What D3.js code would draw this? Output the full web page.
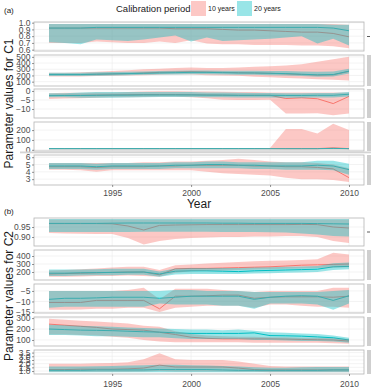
<!DOCTYPE html>
<html>
<head>
<meta charset="utf-8">
<script src="https://cdn.jsdelivr.net/npm/d3@7"></script>
<style>
  body { margin: 0; background: #fff; }
  svg { display: block; font-family: "Liberation Sans", Arial, sans-serif; }
</style>
</head>
<body>
<div id="chart"></div>
<script>
const width = 371;
const height = 387;

const years = d3.range(1991, 2011);
const xTicks = [1995, 2000, 2005, 2010];
const seriesNames = ['10 years', '20 years'];

// ---- C1 ----
const c1p1Mid10 = [0.92,0.92,0.92,0.92,0.92,0.92,0.92,0.92,0.91,0.91,0.91,0.90,0.89,0.89,0.88,0.87,0.86,0.86,0.84,0.79];
const c1p1Lo10  = [0.70,0.70,0.70,0.72,0.71,0.70,0.70,0.72,0.70,0.74,0.69,0.68,0.68,0.67,0.67,0.67,0.66,0.66,0.65,0.62];
const c1p1Hi10  = [0.98,0.98,0.98,0.98,0.98,0.98,0.98,0.98,0.98,0.98,0.98,0.98,0.98,0.98,0.98,0.98,0.98,0.98,0.98,0.97];
const c1p1Mid20 = [0.92,0.92,0.92,0.93,0.93,0.93,0.93,0.93,0.93,0.93,0.93,0.93,0.93,0.93,0.93,0.93,0.93,0.93,0.92,0.88];
const c1p1Lo20  = [0.71,0.70,0.68,0.75,0.74,0.73,0.75,0.78,0.81,0.72,0.78,0.73,0.74,0.75,0.76,0.78,0.80,0.69,0.76,0.66];
const c1p1Hi20  = [0.98,0.98,0.98,0.98,0.98,0.98,0.98,0.98,0.98,0.98,0.98,0.98,0.98,0.98,0.98,0.98,0.98,0.98,0.97,0.97];

const c1p2Mid10 = [215,215,215,220,225,230,240,250,255,260,255,250,245,240,235,225,215,205,210,265];
const c1p2Lo10  = [185,185,185,190,195,200,205,210,215,215,205,200,195,180,170,160,150,140,130,120];
const c1p2Hi10  = [245,245,250,260,270,285,300,310,320,330,320,320,330,340,350,360,380,420,460,500];
const c1p2Mid20 = [215,215,215,220,225,230,235,240,245,250,250,245,240,240,235,230,220,210,215,270];
const c1p2Lo20  = [190,190,190,195,200,205,210,215,215,220,220,215,210,210,205,200,190,180,185,230];
const c1p2Hi20  = [245,245,245,250,255,260,265,270,275,280,280,275,275,275,270,270,265,260,265,310];

const c1p3Mid10 = [-2.5,-2.4,-2.4,-2.3,-2.2,-2.1,-2.0,-2.0,-2.0,-2.1,-2.2,-2.3,-2.4,-2.4,-2.4,-4.2,-3.8,-4.3,-7.0,-3.0];
const c1p3Lo10  = [-4.5,-4.2,-4.0,-3.8,-3.5,-3.5,-3.3,-3.2,-3.2,-3.5,-4.0,-4.8,-5.0,-5.0,-4.8,-12.5,-12.5,-12.3,-13.5,-12.5];
const c1p3Hi10  = [-1.2,-1.0,-1.0,-0.8,-0.8,-0.5,-0.3,-0.2,-0.2,-0.3,-0.3,-0.4,-0.5,-0.6,-0.8,-0.8,-0.8,-0.8,-0.9,-0.8];
const c1p3Mid20 = [-2.6,-2.5,-2.5,-2.4,-2.3,-2.3,-2.2,-2.2,-2.2,-2.2,-2.3,-2.3,-2.4,-2.4,-2.4,-2.5,-2.5,-2.4,-2.4,-1.8];
const c1p3Lo20  = [-3.5,-3.5,-3.8,-3.8,-3.7,-3.6,-3.5,-3.4,-3.4,-3.4,-3.5,-3.5,-3.6,-3.6,-3.6,-3.7,-3.7,-3.6,-3.6,-3.0];
const c1p3Hi20  = [-1.3,-1.2,-0.8,-0.6,-0.6,-0.6,-0.5,-0.5,-0.5,-0.6,-0.8,-0.9,-1.0,-1.1,-1.1,-1.2,-1.2,-1.1,-1.1,-0.5];

const c1p4Mid10 = [12,12,12,12,12,12,12,12,12,12,12,12,12,12,12,12,12,12,20,12];
const c1p4Lo10  = [6,6,6,6,6,6,6,6,6,6,6,6,6,6,6,4,4,4,4,4];
const c1p4Hi10  = [17,17,17,17,17,17,17,17,17,17,17,17,17,17,18,210,210,165,265,200];
const c1p4Mid20 = [12,12,12,12,12,12,12,12,12,12,12,12,12,12,12,12,12,12,14,12];
const c1p4Lo20  = [7,7,7,7,7,7,7,7,7,7,7,7,7,7,7,7,7,7,7,7];
const c1p4Hi20  = [17,17,17,17,17,17,17,17,17,17,17,17,17,17,17,17,17,17,20,17];

const c1p5Mid10 = [4.7,4.7,4.7,4.6,4.7,4.7,4.7,4.8,4.8,4.9,4.9,4.9,4.9,4.8,4.8,4.7,4.7,4.6,4.4,3.2];
const c1p5Lo10  = [4.3,4.3,4.2,4.0,4.2,4.2,4.2,4.2,4.2,4.2,4.0,3.8,3.7,3.6,3.5,3.2,3.0,3.0,2.9,2.6];
const c1p5Hi10  = [5.2,5.2,5.2,5.2,5.2,5.2,5.3,5.3,5.4,5.4,5.5,5.6,5.8,5.6,5.4,5.3,5.3,5.2,5.0,4.5];
const c1p5Mid20 = [4.8,4.8,4.8,4.7,4.8,4.8,4.8,4.8,4.9,4.9,5.0,5.0,4.9,4.9,4.8,4.8,4.8,4.9,4.8,4.3];
const c1p5Lo20  = [4.4,4.4,4.4,4.3,4.4,4.4,4.4,4.4,4.5,4.5,4.5,4.5,4.5,4.4,4.4,4.3,4.3,4.3,4.2,3.6];
const c1p5Hi20  = [5.2,5.2,5.2,5.1,5.2,5.2,5.2,5.2,5.3,5.3,5.4,5.4,5.3,5.3,5.3,5.3,5.3,5.5,5.5,5.1];

// ---- C2 ----
const c2p1Mid10 = [0.967,0.967,0.967,0.967,0.966,0.955,0.935,0.958,0.960,0.961,0.962,0.962,0.962,0.962,0.962,0.962,0.963,0.962,0.950,0.945];
const c2p1Lo10  = [0.920,0.918,0.916,0.915,0.915,0.895,0.862,0.880,0.890,0.895,0.898,0.900,0.900,0.902,0.903,0.905,0.905,0.900,0.880,0.870];
const c2p1Hi10  = [0.988,0.988,0.988,0.988,0.988,0.988,0.988,0.988,0.988,0.988,0.988,0.988,0.988,0.988,0.988,0.988,0.988,0.988,0.988,0.988];
const c2p1Mid20 = [0.968,0.968,0.968,0.968,0.969,0.970,0.970,0.970,0.970,0.970,0.970,0.969,0.969,0.968,0.968,0.968,0.968,0.967,0.966,0.965];
const c2p1Lo20  = [0.925,0.925,0.925,0.925,0.925,0.925,0.926,0.926,0.926,0.926,0.926,0.925,0.925,0.925,0.924,0.922,0.918,0.912,0.905,0.903];
const c2p1Hi20  = [0.990,0.990,0.990,0.990,0.990,0.990,0.990,0.990,0.990,0.990,0.990,0.990,0.990,0.990,0.990,0.990,0.990,0.990,0.990,0.990];

const c2p2Mid10 = [175,180,185,190,195,200,200,165,240,245,245,250,255,260,265,275,285,290,295,300];
const c2p2Lo10  = [140,140,145,150,150,155,150,140,190,210,215,220,225,230,235,240,245,250,255,260];
const c2p2Hi10  = [220,225,235,245,255,265,265,225,285,295,305,315,325,335,340,345,350,360,440,420];
const c2p2Mid20 = [185,185,190,192,195,198,200,175,210,215,215,210,205,215,220,225,230,235,265,270];
const c2p2Lo20  = [150,150,155,160,160,165,165,140,170,175,175,175,175,180,185,190,195,200,225,235];
const c2p2Hi20  = [230,230,232,235,240,240,240,205,245,250,250,250,250,255,260,265,270,275,310,320];

const c2p3Mid10 = [-10.5,-10.5,-10.5,-9.5,-9.5,-9.5,-9.5,-13.5,-7.5,-7.5,-7.3,-7.0,-7.0,-8.5,-8.0,-7.8,-7.8,-7.8,-8.0,-7.5];
const c2p3Lo10  = [-14.0,-14.0,-13.8,-13.5,-13.5,-13.0,-13.0,-15.0,-13.0,-12.5,-12.0,-12.0,-12.0,-13.0,-11.5,-11.5,-12.0,-12.5,-12.5,-13.0];
const c2p3Hi10  = [-5.0,-5.0,-5.0,-5.0,-5.0,-4.5,-3.5,-9.0,-4.0,-4.0,-4.0,-4.5,-5.0,-5.5,-5.0,-5.0,-5.0,-5.0,-3.5,-3.5];
const c2p3Mid20 = [-9.0,-8.5,-8.5,-8.3,-8.0,-8.0,-8.0,-8.5,-8.0,-7.5,-7.5,-7.5,-7.5,-9.0,-8.0,-7.5,-7.3,-7.5,-9.5,-7.3];
const c2p3Lo20  = [-13.0,-12.5,-12.5,-12.5,-12.5,-12.5,-12.5,-11.0,-11.5,-11.5,-11.5,-12.0,-12.0,-13.5,-11.0,-11.0,-11.0,-11.5,-14.0,-11.0];
const c2p3Hi20  = [-5.0,-5.0,-5.0,-5.0,-5.0,-5.0,-5.0,-5.0,-4.5,-4.5,-5.0,-5.0,-5.0,-5.5,-5.5,-5.5,-5.5,-5.5,-5.0,-4.5];

const c2p4Mid10 = [245,235,225,215,200,195,190,170,150,125,115,110,110,110,110,108,105,102,100,90];
const c2p4Lo10  = [150,150,145,140,130,120,100,85,80,80,80,80,80,75,75,75,75,75,70,65];
const c2p4Hi10  = [295,285,275,268,260,250,230,220,180,155,140,135,130,130,125,125,120,120,115,110];
const c2p4Mid20 = [200,195,190,188,185,180,175,172,165,160,160,160,160,165,140,138,135,128,120,100];
const c2p4Lo20  = [145,145,140,135,135,130,125,125,115,110,110,110,110,100,100,95,90,90,85,75];
const c2p4Hi20  = [240,235,230,225,220,215,210,205,200,195,195,190,195,185,170,165,160,155,140,120];

const c2p5Mid10 = [1.20,1.20,1.25,1.25,1.25,1.30,1.40,1.80,1.55,1.55,1.55,1.55,1.40,1.20,1.15,1.15,1.15,1.15,1.15,1.15];
const c2p5Lo10  = [0.90,0.90,0.90,0.90,0.90,0.90,0.95,1.00,0.95,0.95,0.95,0.95,0.90,0.90,0.85,0.85,0.85,0.85,0.85,0.85];
const c2p5Hi10  = [2.00,2.00,2.00,2.05,2.10,2.20,2.60,3.40,2.60,2.50,2.50,2.50,2.30,2.00,1.70,1.60,1.60,1.60,1.60,1.60];
const c2p5Mid20 = [1.10,1.10,1.10,1.15,1.15,1.15,1.15,1.20,1.20,1.20,1.20,1.15,1.10,1.10,1.10,1.10,1.10,1.10,1.15,1.15];
const c2p5Lo20  = [0.85,0.85,0.85,0.85,0.85,0.85,0.85,0.85,0.85,0.85,0.85,0.85,0.85,0.85,0.85,0.85,0.85,0.85,0.85,0.85];
const c2p5Hi20  = [1.60,1.60,1.60,1.65,1.70,1.75,1.80,1.85,1.85,1.80,1.75,1.70,1.60,1.50,1.45,1.45,1.50,1.55,1.55,1.55];

// y tick labels per panel
const c1Ticks = [[0.6,0.7,0.8,0.9,1.0],[100,200,300,400,500],[-10,-5,0],[0,100,200],[3,4,5,6]];
const c2Ticks = [[0.90,0.95],[200,300,400],[-15,-10,-5],[100,200,300],[1.0,1.5,2.0,2.5,3.0,3.5]];

const colors = { '10 years': '#F8766D', '20 years': '#00BFC4' };

function series(mid10, lo10, hi10, mid20, lo20, hi20) {
  return [
    { name: '10 years', rows: years.map((y, i) => ({ year: y, mid: mid10[i], lo: lo10[i], hi: hi10[i] })) },
    { name: '20 years', rows: years.map((y, i) => ({ year: y, mid: mid20[i], lo: lo20[i], hi: hi20[i] })) },
  ];
}

const groups = [
  {
    label: '(a)', labelY: 13, title: 'Parameter values for C1', xLabelY: 196, showYear: true,
    panels: [
      { top: 22, bottom: 51, domain: [0.58, 1.01], ticks: c1Ticks[0], fmt: '.1f', data: series(c1p1Mid10, c1p1Lo10, c1p1Hi10, c1p1Mid20, c1p1Lo20, c1p1Hi20) },
      { top: 55, bottom: 86, domain: [30, 530], ticks: c1Ticks[1], fmt: 'd', data: series(c1p2Mid10, c1p2Lo10, c1p2Hi10, c1p2Mid20, c1p2Lo20, c1p2Hi20) },
      { top: 89, bottom: 118, domain: [-15, 1.1], ticks: c1Ticks[2], fmt: 'd', data: series(c1p3Mid10, c1p3Lo10, c1p3Hi10, c1p3Mid20, c1p3Lo20, c1p3Hi20) },
      { top: 122, bottom: 151, domain: [-12, 282], ticks: c1Ticks[3], fmt: 'd', data: series(c1p4Mid10, c1p4Lo10, c1p4Hi10, c1p4Mid20, c1p4Lo20, c1p4Hi20) },
      { top: 155, bottom: 185, domain: [2.2, 6.3], ticks: c1Ticks[4], fmt: 'd', data: series(c1p5Mid10, c1p5Lo10, c1p5Hi10, c1p5Mid20, c1p5Lo20, c1p5Hi20) },
    ],
  },
  {
    label: '(b)', labelY: 214, title: 'Parameter values for C2', xLabelY: 387, showYear: false,
    panels: [
      { top: 218, bottom: 246, domain: [0.855, 0.995], ticks: c2Ticks[0], fmt: '.2f', data: series(c2p1Mid10, c2p1Lo10, c2p1Hi10, c2p1Mid20, c2p1Lo20, c2p1Hi20) },
      { top: 250, bottom: 280, domain: [100, 475], ticks: c2Ticks[1], fmt: 'd', data: series(c2p2Mid10, c2p2Lo10, c2p2Hi10, c2p2Mid20, c2p2Lo20, c2p2Hi20) },
      { top: 284, bottom: 313, domain: [-15.5, -1.7], ticks: c2Ticks[2], fmt: 'd', data: series(c2p3Mid10, c2p3Lo10, c2p3Hi10, c2p3Mid20, c2p3Lo20, c2p3Hi20) },
      { top: 317, bottom: 346, domain: [45, 310], ticks: c2Ticks[3], fmt: 'd', data: series(c2p4Mid10, c2p4Lo10, c2p4Hi10, c2p4Mid20, c2p4Lo20, c2p4Hi20) },
      { top: 350, bottom: 374, domain: [0.6, 3.85], ticks: c2Ticks[4], fmt: '.1f', data: series(c2p5Mid10, c2p5Lo10, c2p5Hi10, c2p5Mid20, c2p5Lo20, c2p5Hi20) },
    ],
  },
];

const panelLeft = 34;
const panelRight = 364;

const svg = d3.select('#chart')
  .append('svg')
  .attr('width', width)
  .attr('height', height);

const xScale = d3.scaleLinear()
  .domain([1990.05, 2010.95])
  .range([panelLeft, panelRight]);

// legend
const legend = svg.append('g').attr('class', 'legend');
legend.append('text')
  .attr('x', 116).attr('y', 12)
  .attr('font-size', 9.5).attr('fill', '#1a1a1a')
  .text('Calibration period');
const legendX = [191, 237];
seriesNames.forEach((name, i) => {
  legend.append('rect')
    .attr('x', legendX[i]).attr('y', 1)
    .attr('width', 15).attr('height', 15)
    .attr('fill', colors[name]).attr('fill-opacity', 0.4);
  legend.append('text')
    .attr('x', legendX[i] + 17).attr('y', 11)
    .attr('font-size', 7).attr('fill', '#1a1a1a')
    .text(name);
});

groups.forEach((group, gi) => {
  const g = svg.append('g');

  g.append('text')
    .attr('x', 4).attr('y', group.labelY)
    .attr('font-size', 8).attr('fill', '#1a1a1a')
    .text(group.label);

  const first = group.panels[0];
  const last = group.panels[group.panels.length - 1];
  const midY = (first.top + last.bottom) / 2;
  g.append('text')
    .attr('transform', `translate(13, ${midY}) rotate(-90)`)
    .attr('text-anchor', 'middle')
    .attr('font-size', 12).attr('fill', '#1a1a1a')
    .text(group.title);

  group.panels.forEach((p, pi) => {
    const yScale = d3.scaleLinear().domain(p.domain).range([p.bottom, p.top]);
    const pg = g.append('g');
    const clipId = `clip-${gi}-${pi}`;
    pg.append('clipPath').attr('id', clipId)
      .append('rect')
      .attr('x', panelLeft).attr('y', p.top)
      .attr('width', panelRight - panelLeft).attr('height', p.bottom - p.top);

    pg.append('rect')
      .attr('x', panelLeft).attr('y', p.top)
      .attr('width', panelRight - panelLeft).attr('height', p.bottom - p.top)
      .attr('fill', '#fff');

    // gridlines
    const grid = pg.append('g').attr('clip-path', `url(#${clipId})`);
    grid.selectAll('line.h')
      .data(p.ticks)
      .join('line')
      .attr('x1', panelLeft).attr('x2', panelRight)
      .attr('y1', (d) => yScale(d)).attr('y2', (d) => yScale(d))
      .attr('stroke', '#ebebeb').attr('stroke-width', 0.6);
    grid.selectAll('line.v')
      .data(xTicks)
      .join('line')
      .attr('x1', (d) => xScale(d)).attr('x2', (d) => xScale(d))
      .attr('y1', p.top).attr('y2', p.bottom)
      .attr('stroke', '#ebebeb').attr('stroke-width', 0.6);

    const plot = pg.append('g').attr('clip-path', `url(#${clipId})`);

    const line = d3.line().x((d) => xScale(d.year)).y((d) => yScale(d.mid));
    const area = d3.area().x((d) => xScale(d.year)).y0((d) => yScale(d.lo)).y1((d) => yScale(d.hi));

    // lines first, ribbons on top (as in the original layering)
    plot.selectAll('path.line')
      .data(p.data)
      .join('path')
      .attr('class', 'line')
      .attr('d', (d) => line(d.rows))
      .attr('fill', 'none')
      .attr('stroke', (d) => colors[d.name])
      .attr('stroke-width', 1);

    plot.selectAll('path.band')
      .data(p.data)
      .join('path')
      .attr('class', 'band')
      .attr('d', (d) => area(d.rows))
      .attr('fill', (d) => colors[d.name])
      .attr('fill-opacity', 0.4);

    pg.append('rect')
      .attr('x', panelLeft).attr('y', p.top)
      .attr('width', panelRight - panelLeft).attr('height', p.bottom - p.top)
      .attr('fill', 'none').attr('stroke', '#b5b5b5').attr('stroke-width', 0.8);

    const yAxis = d3.axisLeft(yScale)
      .tickValues(p.ticks)
      .tickSize(2)
      .tickPadding(1.5)
      .tickFormat(d3.format(p.fmt));
    const ya = pg.append('g')
      .attr('transform', `translate(${panelLeft}, 0)`)
      .call(yAxis);
    ya.select('.domain').remove();
    ya.selectAll('line').attr('stroke', '#4d4d4d').attr('stroke-width', 0.6);
    ya.selectAll('text')
      .attr('font-size', 8.5).attr('fill', '#4d4d4d')
      .attr('font-family', '"Liberation Sans", Arial, sans-serif');

    // facet strip on the right, mostly cropped
    if (pi === 0) {
      pg.append('line')
        .attr('x1', 367).attr('x2', 370)
        .attr('y1', (p.top + p.bottom) / 2).attr('y2', (p.top + p.bottom) / 2)
        .attr('stroke', '#333').attr('stroke-width', 0.8);
    } else {
      pg.append('rect')
        .attr('x', 367).attr('y', p.top)
        .attr('width', 4).attr('height', p.bottom - p.top)
        .attr('fill', '#cfcfcf');
    }
  });

  // x axis
  const xAxis = d3.axisBottom(xScale)
    .tickValues(xTicks)
    .tickSize(2)
    .tickFormat(d3.format('d'));
  const xa = g.append('g')
    .attr('transform', `translate(0, ${last.bottom})`)
    .call(xAxis);
  xa.select('.domain').remove();
  xa.selectAll('line').attr('stroke', '#4d4d4d').attr('stroke-width', 0.6);
  xa.selectAll('text')
    .attr('font-size', 8.5).attr('fill', '#4d4d4d')
    .attr('font-family', '"Liberation Sans", Arial, sans-serif')
    .attr('dy', null)
    .attr('y', group.xLabelY - last.bottom);

  if (group.showYear) {
    g.append('text')
      .attr('x', (panelLeft + panelRight) / 2).attr('y', 208)
      .attr('text-anchor', 'middle')
      .attr('font-size', 12).attr('fill', '#1a1a1a')
      .text('Year');
  }
});

// thin grey band between the 4th and 5th C1 panels, seen in the original
svg.append('rect')
  .attr('x', 20).attr('y', 151.5)
  .attr('width', width - 20).attr('height', 1.8)
  .attr('fill', '#d4d4d4');
</script>
</body>
</html>
